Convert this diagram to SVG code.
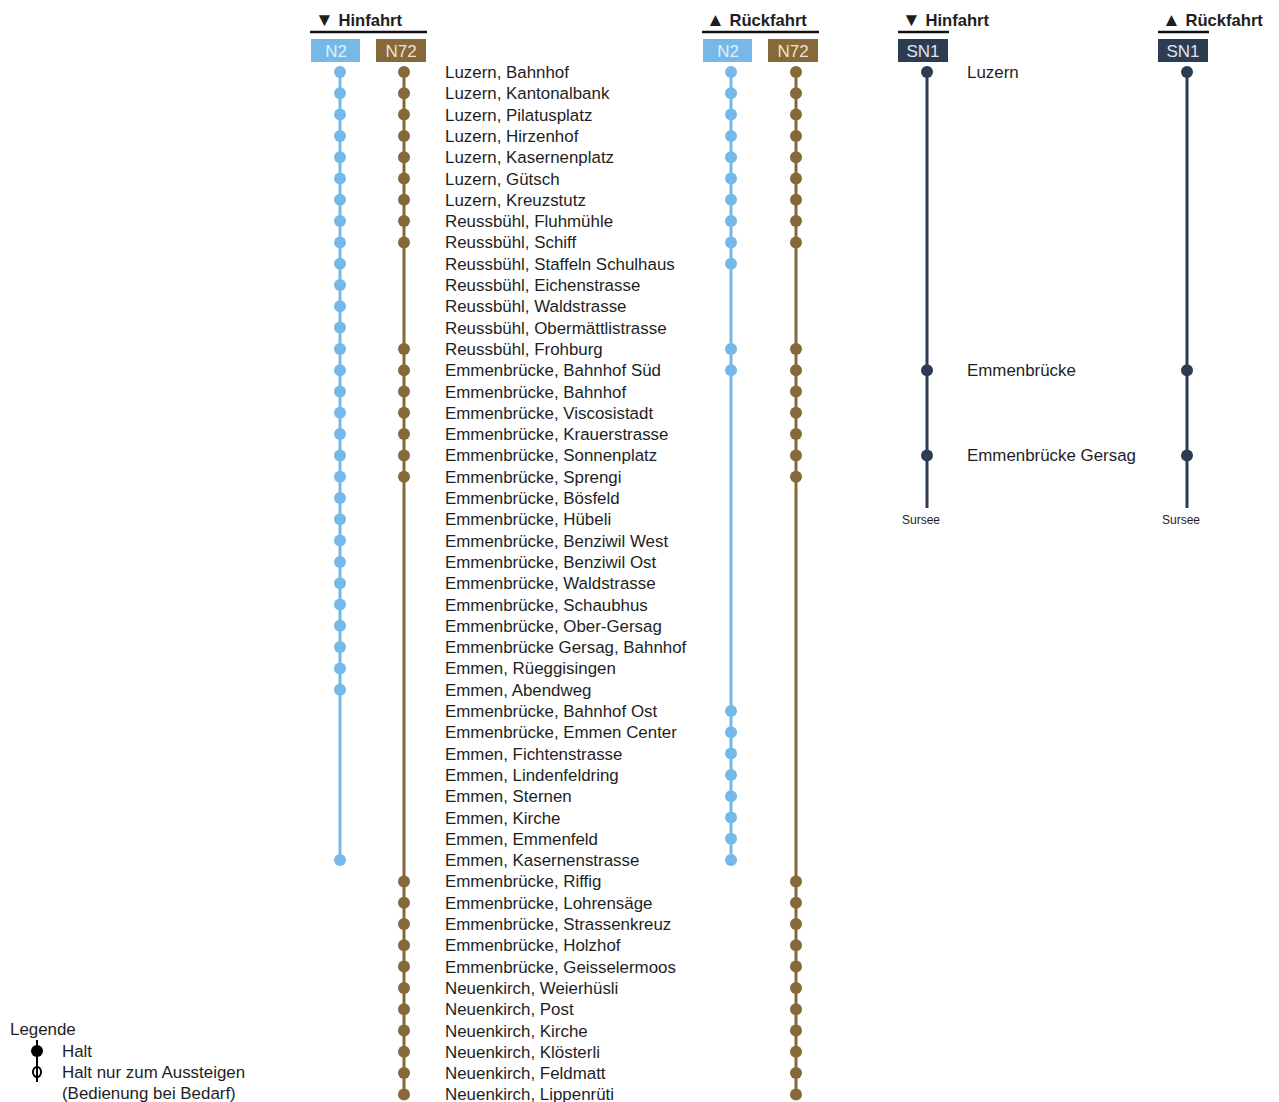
<svg xmlns="http://www.w3.org/2000/svg" width="1279" height="1102" viewBox="0 0 1279 1102">
<style>
text{font-family:"Liberation Sans","DejaVu Sans",Arial,sans-serif;fill:#1e1e1e}
.s{font-size:16.9px}
.h{font-size:16.6px;font-weight:bold}
.t{font-size:19px}
.bx{font-size:17px;text-anchor:middle}
.b{fill:#76b8e8}
.br{fill:#866839}
.d{fill:#2c3c52}
.lb{stroke:#76b8e8;stroke-width:3;fill:none}
.lbr{stroke:#866839;stroke-width:3;fill:none}
.ld{stroke:#2c3c52;stroke-width:3;fill:none}
.ul{stroke:#111;stroke-width:2.5}
.sm{font-size:12px;text-anchor:middle}
</style>
<rect width="1279" height="1102" fill="#fff"/>
<g id="headers">
<text class="h" x="315" y="26"><tspan class="t">▼</tspan> Hinfahrt</text>
<line class="ul" x1="310" y1="32" x2="427" y2="32"/>
<rect x="311" y="39" width="49" height="23" fill="#76b8e8"/>
<text class="bx" x="336" y="56.5" style="fill:#e4eef8">N2</text>
<rect x="376" y="39" width="50" height="23" fill="#866839"/>
<text class="bx" x="401" y="56.5" style="fill:#ece4d4">N72</text>
<text class="h" x="706" y="26"><tspan class="t">▲</tspan> Rückfahrt</text>
<line class="ul" x1="702" y1="32" x2="819" y2="32"/>
<rect x="703" y="39" width="49" height="23" fill="#76b8e8"/>
<text class="bx" x="728" y="56.5" style="fill:#e4eef8">N2</text>
<rect x="768" y="39" width="50" height="23" fill="#866839"/>
<text class="bx" x="793" y="56.5" style="fill:#ece4d4">N72</text>
<text class="h" x="902" y="26"><tspan class="t">▼</tspan> Hinfahrt</text>
<line class="ul" x1="898" y1="32" x2="949" y2="32"/>
<rect x="898" y="39" width="50" height="23" fill="#2c3c52"/>
<text class="bx" x="923" y="56.5" style="fill:#e0e4ea">SN1</text>
<text class="h" x="1162" y="26"><tspan class="t">▲</tspan> Rückfahrt</text>
<line class="ul" x1="1158" y1="32" x2="1209" y2="32"/>
<rect x="1158" y="39" width="50" height="23" fill="#2c3c52"/>
<text class="bx" x="1183" y="56.5" style="fill:#e0e4ea">SN1</text>
</g>
<g id="connectors">
<line class="lb" x1="340" y1="72" x2="340" y2="860.1"/>
<line class="lbr" x1="404" y1="72" x2="404" y2="1094.4"/>
<line class="lb" x1="731" y1="72" x2="731" y2="860.1"/>
<line class="lbr" x1="796" y1="72" x2="796" y2="1094.4"/>
<line class="ld" x1="927" y1="72" x2="927" y2="508"/>
<line class="ld" x1="1187" y1="72" x2="1187" y2="508"/>
</g>
<g id="stop-0"><circle class="b" cx="340" cy="72" r="6"/><circle class="br" cx="404" cy="72" r="6"/><circle class="b" cx="731" cy="72" r="6"/><circle class="br" cx="796" cy="72" r="6"/><text class="s" x="445" y="78">Luzern, Bahnhof</text></g>
<g id="stop-1"><circle class="b" cx="340" cy="93.3" r="6"/><circle class="br" cx="404" cy="93.3" r="6"/><circle class="b" cx="731" cy="93.3" r="6"/><circle class="br" cx="796" cy="93.3" r="6"/><text class="s" x="445" y="99.3">Luzern, Kantonalbank</text></g>
<g id="stop-2"><circle class="b" cx="340" cy="114.6" r="6"/><circle class="br" cx="404" cy="114.6" r="6"/><circle class="b" cx="731" cy="114.6" r="6"/><circle class="br" cx="796" cy="114.6" r="6"/><text class="s" x="445" y="120.6">Luzern, Pilatusplatz</text></g>
<g id="stop-3"><circle class="b" cx="340" cy="135.9" r="6"/><circle class="br" cx="404" cy="135.9" r="6"/><circle class="b" cx="731" cy="135.9" r="6"/><circle class="br" cx="796" cy="135.9" r="6"/><text class="s" x="445" y="141.9">Luzern, Hirzenhof</text></g>
<g id="stop-4"><circle class="b" cx="340" cy="157.2" r="6"/><circle class="br" cx="404" cy="157.2" r="6"/><circle class="b" cx="731" cy="157.2" r="6"/><circle class="br" cx="796" cy="157.2" r="6"/><text class="s" x="445" y="163.2">Luzern, Kasernenplatz</text></g>
<g id="stop-5"><circle class="b" cx="340" cy="178.5" r="6"/><circle class="br" cx="404" cy="178.5" r="6"/><circle class="b" cx="731" cy="178.5" r="6"/><circle class="br" cx="796" cy="178.5" r="6"/><text class="s" x="445" y="184.5">Luzern, Gütsch</text></g>
<g id="stop-6"><circle class="b" cx="340" cy="199.8" r="6"/><circle class="br" cx="404" cy="199.8" r="6"/><circle class="b" cx="731" cy="199.8" r="6"/><circle class="br" cx="796" cy="199.8" r="6"/><text class="s" x="445" y="205.8">Luzern, Kreuzstutz</text></g>
<g id="stop-7"><circle class="b" cx="340" cy="221.1" r="6"/><circle class="br" cx="404" cy="221.1" r="6"/><circle class="b" cx="731" cy="221.1" r="6"/><circle class="br" cx="796" cy="221.1" r="6"/><text class="s" x="445" y="227.1">Reussbühl, Fluhmühle</text></g>
<g id="stop-8"><circle class="b" cx="340" cy="242.4" r="6"/><circle class="br" cx="404" cy="242.4" r="6"/><circle class="b" cx="731" cy="242.4" r="6"/><circle class="br" cx="796" cy="242.4" r="6"/><text class="s" x="445" y="248.4">Reussbühl, Schiff</text></g>
<g id="stop-9"><circle class="b" cx="340" cy="263.7" r="6"/><circle class="b" cx="731" cy="263.7" r="6"/><text class="s" x="445" y="269.7">Reussbühl, Staffeln Schulhaus</text></g>
<g id="stop-10"><circle class="b" cx="340" cy="285" r="6"/><text class="s" x="445" y="291">Reussbühl, Eichenstrasse</text></g>
<g id="stop-11"><circle class="b" cx="340" cy="306.3" r="6"/><text class="s" x="445" y="312.3">Reussbühl, Waldstrasse</text></g>
<g id="stop-12"><circle class="b" cx="340" cy="327.6" r="6"/><text class="s" x="445" y="333.6">Reussbühl, Obermättlistrasse</text></g>
<g id="stop-13"><circle class="b" cx="340" cy="348.9" r="6"/><circle class="br" cx="404" cy="348.9" r="6"/><circle class="b" cx="731" cy="348.9" r="6"/><circle class="br" cx="796" cy="348.9" r="6"/><text class="s" x="445" y="354.9">Reussbühl, Frohburg</text></g>
<g id="stop-14"><circle class="b" cx="340" cy="370.2" r="6"/><circle class="br" cx="404" cy="370.2" r="6"/><circle class="b" cx="731" cy="370.2" r="6"/><circle class="br" cx="796" cy="370.2" r="6"/><text class="s" x="445" y="376.2">Emmenbrücke, Bahnhof Süd</text></g>
<g id="stop-15"><circle class="b" cx="340" cy="391.5" r="6"/><circle class="br" cx="404" cy="391.5" r="6"/><circle class="br" cx="796" cy="391.5" r="6"/><text class="s" x="445" y="397.5">Emmenbrücke, Bahnhof</text></g>
<g id="stop-16"><circle class="b" cx="340" cy="412.8" r="6"/><circle class="br" cx="404" cy="412.8" r="6"/><circle class="br" cx="796" cy="412.8" r="6"/><text class="s" x="445" y="418.8">Emmenbrücke, Viscosistadt</text></g>
<g id="stop-17"><circle class="b" cx="340" cy="434.1" r="6"/><circle class="br" cx="404" cy="434.1" r="6"/><circle class="br" cx="796" cy="434.1" r="6"/><text class="s" x="445" y="440.1">Emmenbrücke, Krauerstrasse</text></g>
<g id="stop-18"><circle class="b" cx="340" cy="455.4" r="6"/><circle class="br" cx="404" cy="455.4" r="6"/><circle class="br" cx="796" cy="455.4" r="6"/><text class="s" x="445" y="461.4">Emmenbrücke, Sonnenplatz</text></g>
<g id="stop-19"><circle class="b" cx="340" cy="476.7" r="6"/><circle class="br" cx="404" cy="476.7" r="6"/><circle class="br" cx="796" cy="476.7" r="6"/><text class="s" x="445" y="482.7">Emmenbrücke, Sprengi</text></g>
<g id="stop-20"><circle class="b" cx="340" cy="498" r="6"/><text class="s" x="445" y="504">Emmenbrücke, Bösfeld</text></g>
<g id="stop-21"><circle class="b" cx="340" cy="519.3" r="6"/><text class="s" x="445" y="525.3">Emmenbrücke, Hübeli</text></g>
<g id="stop-22"><circle class="b" cx="340" cy="540.6" r="6"/><text class="s" x="445" y="546.6">Emmenbrücke, Benziwil West</text></g>
<g id="stop-23"><circle class="b" cx="340" cy="561.9" r="6"/><text class="s" x="445" y="567.9">Emmenbrücke, Benziwil Ost</text></g>
<g id="stop-24"><circle class="b" cx="340" cy="583.2" r="6"/><text class="s" x="445" y="589.2">Emmenbrücke, Waldstrasse</text></g>
<g id="stop-25"><circle class="b" cx="340" cy="604.5" r="6"/><text class="s" x="445" y="610.5">Emmenbrücke, Schaubhus</text></g>
<g id="stop-26"><circle class="b" cx="340" cy="625.8" r="6"/><text class="s" x="445" y="631.8">Emmenbrücke, Ober-Gersag</text></g>
<g id="stop-27"><circle class="b" cx="340" cy="647.1" r="6"/><text class="s" x="445" y="653.1">Emmenbrücke Gersag, Bahnhof</text></g>
<g id="stop-28"><circle class="b" cx="340" cy="668.4" r="6"/><text class="s" x="445" y="674.4">Emmen, Rüeggisingen</text></g>
<g id="stop-29"><circle class="b" cx="340" cy="689.7" r="6"/><text class="s" x="445" y="695.7">Emmen, Abendweg</text></g>
<g id="stop-30"><circle class="b" cx="731" cy="711" r="6"/><text class="s" x="445" y="717">Emmenbrücke, Bahnhof Ost</text></g>
<g id="stop-31"><circle class="b" cx="731" cy="732.3" r="6"/><text class="s" x="445" y="738.3">Emmenbrücke, Emmen Center</text></g>
<g id="stop-32"><circle class="b" cx="731" cy="753.6" r="6"/><text class="s" x="445" y="759.6">Emmen, Fichtenstrasse</text></g>
<g id="stop-33"><circle class="b" cx="731" cy="774.9" r="6"/><text class="s" x="445" y="780.9">Emmen, Lindenfeldring</text></g>
<g id="stop-34"><circle class="b" cx="731" cy="796.2" r="6"/><text class="s" x="445" y="802.2">Emmen, Sternen</text></g>
<g id="stop-35"><circle class="b" cx="731" cy="817.5" r="6"/><text class="s" x="445" y="823.5">Emmen, Kirche</text></g>
<g id="stop-36"><circle class="b" cx="731" cy="838.8" r="6"/><text class="s" x="445" y="844.8">Emmen, Emmenfeld</text></g>
<g id="stop-37"><circle class="b" cx="340" cy="860.1" r="6"/><circle class="b" cx="731" cy="860.1" r="6"/><text class="s" x="445" y="866.1">Emmen, Kasernenstrasse</text></g>
<g id="stop-38"><circle class="br" cx="404" cy="881.4" r="6"/><circle class="br" cx="796" cy="881.4" r="6"/><text class="s" x="445" y="887.4">Emmenbrücke, Riffig</text></g>
<g id="stop-39"><circle class="br" cx="404" cy="902.7" r="6"/><circle class="br" cx="796" cy="902.7" r="6"/><text class="s" x="445" y="908.7">Emmenbrücke, Lohrensäge</text></g>
<g id="stop-40"><circle class="br" cx="404" cy="924" r="6"/><circle class="br" cx="796" cy="924" r="6"/><text class="s" x="445" y="930">Emmenbrücke, Strassenkreuz</text></g>
<g id="stop-41"><circle class="br" cx="404" cy="945.3" r="6"/><circle class="br" cx="796" cy="945.3" r="6"/><text class="s" x="445" y="951.3">Emmenbrücke, Holzhof</text></g>
<g id="stop-42"><circle class="br" cx="404" cy="966.6" r="6"/><circle class="br" cx="796" cy="966.6" r="6"/><text class="s" x="445" y="972.6">Emmenbrücke, Geisselermoos</text></g>
<g id="stop-43"><circle class="br" cx="404" cy="987.9" r="6"/><circle class="br" cx="796" cy="987.9" r="6"/><text class="s" x="445" y="993.9">Neuenkirch, Weierhüsli</text></g>
<g id="stop-44"><circle class="br" cx="404" cy="1009.2" r="6"/><circle class="br" cx="796" cy="1009.2" r="6"/><text class="s" x="445" y="1015.2">Neuenkirch, Post</text></g>
<g id="stop-45"><circle class="br" cx="404" cy="1030.5" r="6"/><circle class="br" cx="796" cy="1030.5" r="6"/><text class="s" x="445" y="1036.5">Neuenkirch, Kirche</text></g>
<g id="stop-46"><circle class="br" cx="404" cy="1051.8" r="6"/><circle class="br" cx="796" cy="1051.8" r="6"/><text class="s" x="445" y="1057.8">Neuenkirch, Klösterli</text></g>
<g id="stop-47"><circle class="br" cx="404" cy="1073.1" r="6"/><circle class="br" cx="796" cy="1073.1" r="6"/><text class="s" x="445" y="1079.1">Neuenkirch, Feldmatt</text></g>
<g id="stop-48"><circle class="br" cx="404" cy="1094.4" r="6"/><circle class="br" cx="796" cy="1094.4" r="6"/><text class="s" x="445" y="1100.4">Neuenkirch, Lippenrüti</text></g>
<g id="sn1-luzern"><circle class="d" cx="927" cy="72" r="6"/><circle class="d" cx="1187" cy="72" r="6"/><text class="s" x="967" y="78">Luzern</text></g>
<g id="sn1-emmenbruecke"><circle class="d" cx="927" cy="370.2" r="6"/><circle class="d" cx="1187" cy="370.2" r="6"/><text class="s" x="967" y="376.2">Emmenbrücke</text></g>
<g id="sn1-gersag"><circle class="d" cx="927" cy="455.4" r="6"/><circle class="d" cx="1187" cy="455.4" r="6"/><text class="s" x="967" y="461.4">Emmenbrücke Gersag</text></g>
<g id="sn1-sursee"><text class="sm" x="921" y="524">Sursee</text><text class="sm" x="1181" y="524">Sursee</text></g>
<g id="legend">
<text class="s" x="10" y="1035">Legende</text>
<line x1="37" y1="1040" x2="37" y2="1082" stroke="#000" stroke-width="2"/>
<circle cx="37" cy="1051" r="6" fill="#000"/>
<ellipse cx="37" cy="1072" rx="4" ry="5" fill="#fff" stroke="#000" stroke-width="2"/>
<line x1="37" y1="1066" x2="37" y2="1078" stroke="#000" stroke-width="2"/>
<text class="s" x="62" y="1057">Halt</text>
<text class="s" x="62" y="1078">Halt nur zum Aussteigen</text>
<text class="s" x="62" y="1099">(Bedienung bei Bedarf)</text>
</g>
</svg>
